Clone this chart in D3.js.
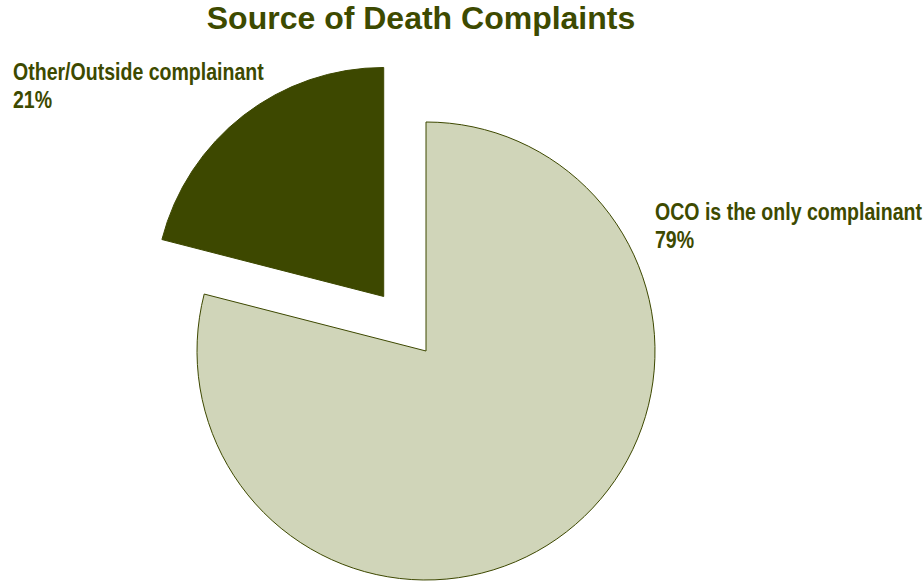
<!DOCTYPE html>
<html>
<head>
<meta charset="utf-8">
<script src="https://cdn.jsdelivr.net/npm/d3@7"></script>
<style>
  body { margin: 0; background: #fff; }
  svg { display: block; }
</style>
</head>
<body>
<svg width="923" height="582"></svg>
<script>
// Sample data
const categories = ['OCO is the only complainant', 'Other/Outside complainant'];
const values = [79, 21];
const colors = ['#d0d5b9', '#3d4800'];
const explode = [0, 69];

const svg = d3.select('svg');
const cx = 426, cy = 351, radius = 229;
const textColor = '#3d4a00';

// Title
svg.append('text')
  .attr('x', 421)
  .attr('y', 29)
  .attr('text-anchor', 'middle')
  .attr('font-family', 'Liberation Sans, Arial, sans-serif')
  .attr('font-weight', 'bold')
  .attr('font-size', 32)
  .attr('fill', textColor)
  .text('Source of Death Complaints');

const pie = d3.pie().sort(null).value(d => d.value);
const arc = d3.arc().innerRadius(0).outerRadius(radius);
const data = categories.map((c, i) => ({ name: c, value: values[i], color: colors[i], off: explode[i] }));
const arcs = pie(data);

const g = svg.append('g').attr('transform', `translate(${cx},${cy})`);

g.selectAll('path')
  .data(arcs)
  .join('path')
  .attr('d', arc)
  .attr('fill', d => d.data.color)
  .attr('stroke', '#3d4800')
  .attr('stroke-width', 1)
  .attr('transform', d => {
    const a = (d.startAngle + d.endAngle) / 2;
    return `translate(${Math.sin(a) * d.data.off},${-Math.cos(a) * d.data.off})`;
  });

// Labels (condensed look via horizontal scale)
const labelPos = [[655, 220], [13, 80]];
const labels = svg.append('g')
  .selectAll('text')
  .data(data)
  .join('text')
  .attr('font-family', 'Liberation Sans, Arial, sans-serif')
  .attr('font-weight', 'bold')
  .attr('font-size', 23)
  .attr('fill', textColor)
  .attr('transform', (d, i) => `translate(${labelPos[i][0]},${labelPos[i][1]}) scale(0.85,1)`);

labels.append('tspan').attr('x', 0).attr('y', 0).text(d => d.name);
labels.append('tspan').attr('x', 0).attr('y', 28).text(d => d.value + '%');
</script>
</body>
</html>
